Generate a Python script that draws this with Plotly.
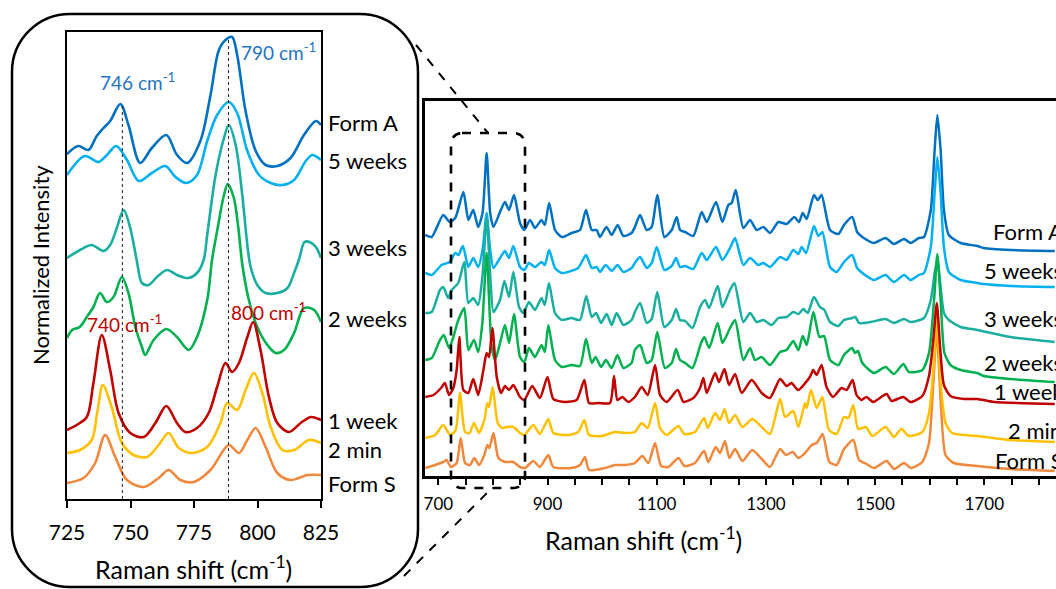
import plotly.graph_objects as go

W, H = 1056, 589

# ---------------- data (Raman shift cm-1, stacked normalized intensity) ----------------
SERIES = ["Form A", "5 weeks", "3 weeks", "2 weeks", "1 week", "2 min", "Form S"]
COLORS = ["#0070C0", "#00B0F0", "#1AAE9F", "#00B050", "#C00000", "#FFC000", "#F0883E"]
MAIN_TICKS = [700, 900, 1100, 1300, 1500, 1700]
INSET_TICKS = [725, 750, 775, 800, 825]
PEAK_LINES = [746.8, 788.6]           # dotted reference lines in the inset
PEAK_LABELS = ["746 cm<sup>-1</sup>", "790 cm<sup>-1</sup>", "740 cm<sup>-1</sup>", "800 cm<sup>-1</sup>"]

MAIN_FORM_A = [(676,240),(688,238),(709,260),(721,253),(731,257),(746,283),(755,255),(764,265),(773,248),(781,262),(788.5,322),(795,262),(801,248),(813,263),(822,273),(829.5,265),(838.6,280),(849.6,252),(857.5,245),(868,255),(877,247),(889,255),(895,250),(903,272),(913.7,245),(926,238),(944,242),(959.5,245),(970.5,265),(981,245),(990,245),(996,238),(1008,248),(1017.5,240),(1028.5,250),(1039,239),(1054,242),(1060,248),(1069.5,260),(1081.7,245),(1090.8,248),(1101,280),(1114,238),(1127.5,245),(1136.6,258),(1142.7,245),(1152,243),(1167,239),(1182.4,263),(1191.6,253),(1208.6,273),(1220.3,253),(1231.2,270),(1237.3,272),(1244.7,285),(1258.7,247),(1271,255),(1283,245),(1295.3,248),(1307.5,242),(1322.8,253),(1338,251),(1352,258),(1360.7,253),(1367.4,262),(1374.7,256),(1388,280),(1394.9,275),(1402,280),(1417.4,245),(1432.7,241),(1443,250),(1458,258),(1467,243),(1476.6,238),(1498,232),(1519,237),(1534.6,231),(1553,236),(1565,232),(1580,237),(1589.5,238),(1602,265),(1609,325),(1614,360),(1620,325),(1626,265),(1635,240),(1656.7,232),(1687,229),(1699,227),(1748,225),(1829,224)]
MAIN_5_WEEKS = [(676,202),(688,200),(706,210),(721,213),(731,222),(737,220),(745,229),(755,208),(764,217),(773,208),(781,225),(788.5,262),(795,225),(801,207),(813,217),(822,224),(829.5,217),(837.4,229),(849.6,208),(857.5,205),(866,212),(877,208),(889,213),(895,210),(903,225),(913.7,207),(926,202),(956,207),(970.5,220),(981,207),(990,208),(996,203),(1006.5,210),(1017.5,204),(1028,210),(1039,203),(1054,207),(1060,212),(1069.5,218),(1081.7,207),(1090.8,212),(1100,228),(1114,205),(1127.5,209),(1135.4,217),(1142.7,208),(1152,209),(1167,206),(1182.4,222),(1191.6,215),(1208.6,228),(1220.3,215),(1234.3,227),(1243.5,237),(1258.7,210),(1271,217),(1286,210),(1295.3,212),(1307.5,208),(1326,218),(1338,215),(1350,225),(1359.5,221),(1365.6,228),(1373.5,222),(1388,249),(1396,239),(1403.4,243),(1417.4,208),(1429.6,203),(1443,213),(1458,220),(1467,207),(1476.6,202),(1498,195),(1519,200),(1534.6,193),(1553,200),(1565,195),(1580,200),(1589.5,202),(1602,228),(1609,282),(1614,318),(1620,282),(1626,228),(1635,203),(1656.7,195),(1687,192),(1699,191),(1748,189),(1829,188)]
MAIN_3_WEEKS = [(676,162),(688,163),(703,185),(709,188),(718,177),(724.5,185),(736.6,192),(747.6,213),(755,172),(764,177),(773,170),(781,200),(788.5,258),(795,200),(801,163),(813,175),(821,194),(829.5,178),(837.4,203),(847.8,168),(855.7,162),(866,173),(877,165),(889,177),(895,170),(902.7,192),(913.7,162),(926,155),(944,157),(959.5,155),(971,179),(981,158),(989,162),(998,152),(1008.3,161),(1017.5,150),(1026.6,162),(1039,150),(1054,155),(1060,163),(1069.5,172),(1081.7,152),(1090.8,156),(1101,183),(1114,148),(1127.5,155),(1135.4,166),(1142.7,155),(1152,154),(1165.3,147),(1179.4,168),(1188.5,175),(1196,167),(1211.7,189),(1220.3,168),(1234.3,185),(1242.2,192),(1258.7,153),(1271,162),(1283,153),(1295.3,155),(1310.6,150),(1322.8,157),(1338,158),(1350,163),(1359.5,161),(1368.6,166),(1376.5,162),(1388,178),(1399,168),(1407,165),(1417.4,153),(1432.7,149),(1443,155),(1458,157),(1464,158),(1470.5,152),(1492,153),(1519,156),(1534.6,152),(1553,156),(1565,153),(1589.5,157),(1602,175),(1609,202),(1614,216),(1620,188),(1626,162),(1635,155),(1656.7,148),(1687,145),(1748,138),(1829,133)]
MAIN_2_WEEKS = [(676,115),(688,117),(703,135),(710,140),(719.6,127),(727.5,138),(736.6,155),(747.6,167),(755,125),(765.3,135),(773,123),(780.6,152),(788.5,222),(797.7,128),(804,115),(813,132),(822,150),(829.5,132),(838.6,161),(849.6,118),(857.5,113),(866,127),(877,118),(889,130),(895,123),(901.5,150),(913.7,115),(926,108),(944,110),(959.5,109),(970.5,136),(981,112),(988,118),(998,108),(1007,115),(1017.5,107),(1028,120),(1039,107),(1054,112),(1060,125),(1069.5,130),(1081.7,112),(1090.8,115),(1101,143),(1115,107),(1127.5,112),(1135.4,126),(1142.7,115),(1152,112),(1165.3,107),(1181.2,132),(1187.3,138),(1196,127),(1211.7,152),(1220.3,132),(1234.3,147),(1243.5,155),(1258.7,115),(1271,127),(1280,115),(1292.3,118),(1307.5,110),(1326,123),(1338,125),(1350,134),(1359.5,125),(1367.4,139),(1374.7,130),(1387,163),(1398,138),(1406.5,139),(1417.4,115),(1432.7,110),(1443,120),(1458,127),(1463,122),(1468.6,124),(1476.6,112),(1498,102),(1519,108),(1534.6,101),(1551.7,111),(1562,103),(1586.5,105),(1598.7,122),(1608,175),(1614,221),(1620,175),(1627,122),(1638,110),(1656.7,105),(1687,102),(1699,99),(1748,96),(1829,93)]
MAIN_1_WEEK = [(676,78),(691,80),(705,87),(712,92),(719.6,80),(727.5,87),(733.6,105),(738.5,138),(745.8,85),(755,82),(764,96),(773,80),(782.5,105),(788.5,122),(793,118),(799,147),(807,98),(815,82),(822,89),(829.5,85),(837.4,90),(849.6,78),(857.5,75),(872,89),(886,77),(900,98),(910.6,76),(932,73),(953.4,75),(967.4,95),(976,72),(993,72),(1014.4,72),(1021.8,99),(1028,75),(1037,78),(1048,73),(1060,78),(1072.5,88),(1083.5,80),(1097,110),(1106,80),(1118,73),(1138.4,85),(1149,73),(1167,77),(1179.4,87),(1185.5,97),(1191.6,82),(1207,102),(1214,93),(1224,106),(1232.5,90),(1243.5,101),(1255.7,82),(1274,95),(1292.3,82),(1307.5,77),(1326,96),(1338,89),(1347,92),(1359,85),(1380.5,98),(1386.6,105),(1392.7,100),(1402,110),(1411,88),(1423,78),(1438.5,87),(1447.7,85),(1458.7,95),(1466,80),(1475,75),(1484,78),(1496.5,73),(1521,81),(1530,74),(1551.5,78),(1565,73),(1586.5,79),(1598.7,99),(1606.6,135),(1613,172),(1619,128),(1626,90),(1638,79),(1663,76),(1687,76),(1718,73),(1829,71)]
MAIN_2_MIN = [(676,37),(694,40),(709,50),(721.4,40),(731.8,45),(739.7,82),(749,43),(757,42),(765.3,52),(774.5,42),(784.3,55),(789.8,72),(793,68),(799.6,88),(808.7,52),(817,47),(825,48),(837.4,48),(849.6,42),(857.5,40),(874,50),(886,41),(901.5,56),(910.6,42),(938,40),(956.4,43),(967.4,55),(976,40),(999,39),(1023.6,43),(1042,42),(1060,43),(1072.5,52),(1083.5,47),(1097,72),(1106,47),(1118,40),(1139.7,49),(1150.7,41),(1170,43),(1186.7,57),(1193.4,47),(1207,62),(1216,55),(1224,66),(1232.5,52),(1243.5,60),(1257,48),(1275,56),(1292.3,48),(1307.5,41),(1326,76),(1335,58),(1350,64),(1359.5,48),(1371.6,72),(1374.7,67),(1382.6,85),(1393,67),(1403.4,78),(1415.6,45),(1429.6,41),(1443,58),(1451,57),(1460,70),(1469,46),(1483,48),(1495,39),(1519,48),(1534.6,38),(1548,46),(1562,39),(1586.5,43),(1598.7,62),(1606.6,105),(1613,158),(1620,92),(1629,52),(1641,42),(1687,39),(1748,35),(1829,33)]
MAIN_FORM_S = [(676,7),(694,10),(709,13),(715,15),(723,8),(733.6,12),(741,37),(749,12),(758,10),(766,17),(774.5,10),(784.3,20),(789.8,30),(793.5,27),(801,42),(810,17),(822,13),(837.4,13),(849.6,8),(858.7,7),(874,14),(886,8),(901.5,20),(910.6,8),(944,7),(959.5,10),(968.6,18),(976,5),(1005,7),(1023.6,10),(1042,10),(1060,12),(1073.7,19),(1084.7,12),(1097,32),(1108,9),(1121.4,8),(1139.7,17),(1150.7,9),(1170,12),(1186.7,24),(1194.6,13),(1208,28),(1216,22),(1225,34),(1233,17),(1243.5,26),(1257,14),(1275,25),(1292.3,16),(1307.5,8),(1326,26),(1336.3,20),(1349,23),(1359.5,17),(1371.6,22),(1384,30),(1393,32),(1404,41),(1416.2,13),(1429.6,10),(1443,26),(1460,35),(1470.5,15),(1484.5,11),(1498,7),(1521,14),(1534.6,6),(1553,12),(1565,7),(1586.5,13),(1598.7,32),(1606.6,92),(1613,145),(1620,75),(1629,20),(1644,12),(1687,9),(1748,6),(1829,4)]

INSET_FORM_A = [(725,345),(729.5,353),(733.4,349),(736.7,363),(739.4,371),(742,378),(746,395),(749.2,374),(753.8,336),(758.4,351),(764.1,364),(768.3,344),(772.3,336),(777.5,358),(781.5,404),(784.8,449),(787.4,459),(790,462),(792,444),(795.3,388),(799.3,348),(803.2,334),(807.8,333),(813,341),(818.3,364),(823,378),(825,374)]
INSET_5_WEEKS = [(725,324),(732,343),(737.4,337),(740.7,344),(744.4,353),(748.6,339),(753.2,318),(758.4,326),(763.7,333),(767.7,322),(772,316),(776.2,324),(780.2,358),(784.1,384),(788.7,397),(792,386),(796,348),(800.6,324),(805.2,316),(809.8,314),(814.4,319),(819,338),(821.6,344),(825,339)]
INSET_3_WEEKS = [(725,241),(730.1,249),(734.7,254),(739.4,248),(742,254),(744.6,271),(747.3,289),(749.9,271),(752.5,238),(754.5,216),(757.1,214),(760.4,222),(764.4,229),(768.3,224),(772.9,221),(776.2,226),(778.8,239),(780.2,264),(783.5,324),(786.8,361),(788.7,374),(791.4,354),(794,304),(796,254),(797.3,232),(799.9,214),(803.2,206),(807.8,206),(811.8,211),(814.4,226),(816.4,240),(818.5,257),(820.5,257),(823,252),(825,241)]
INSET_2_WEEKS = [(725,161),(727,169),(730,172),(732.8,182),(735.4,192),(738,206),(740.7,197),(743.3,202),(746.6,222),(749.2,206),(751.9,172),(754.5,152),(755.8,144),(759.1,159),(764.1,170),(768.3,162),(772.9,149),(776.2,162),(780.2,199),(782.1,239),(784.1,268),(786.8,304),(788.3,315),(790.7,301),(792.5,270),(794,235),(796.6,199),(799.9,172),(803.9,154),(807.2,146),(810.5,149),(814.4,166),(818.3,191),(822.3,189),(825,177)]
INSET_1_WEEK = [(725,69),(728.8,74),(732.8,82),(735.4,116),(738.7,164),(742,129),(745.3,86),(749.9,66),(755.2,62),(759.8,76),(764.1,93),(768.3,76),(771.6,67),(776.2,71),(780.8,86),(784.1,112),(787.4,136),(790,127),(792.7,136),(796,162),(798.3,177),(801.2,149),(804.5,102),(807.8,76),(812.4,67),(817,76),(821,82),(825,79)]
INSET_2_MIN = [(725,46),(730.1,49),(734.7,59),(737,88),(739.1,114),(742.6,92),(746.6,56),(751.2,44),(756.5,42),(761.1,54),(765,66),(769,51),(774.2,46),(780.2,52),(785.4,76),(788.1,96),(792,89),(795.3,109),(798.6,126),(801.9,106),(805.2,72),(809.8,49),(814.4,49),(820.3,59),(825,56)]
INSET_FORM_S = [(725,16),(731.5,21),(736.1,36),(740,64),(744,42),(748.6,19),(755.2,12),(761.1,21),(765,29),(769.6,19),(774.9,17),(781.5,29),(788.7,54),(792.7,46),(796,59),(799.3,71),(803.2,52),(807.8,26),(813,19),(819.7,24),(825,24)]

MAIN_DATA = [MAIN_FORM_A, MAIN_5_WEEKS, MAIN_3_WEEKS, MAIN_2_WEEKS, MAIN_1_WEEK, MAIN_2_MIN, MAIN_FORM_S]
INSET_DATA = [INSET_FORM_A, INSET_5_WEEKS, INSET_3_WEEKS, INSET_2_WEEKS, INSET_1_WEEK, INSET_2_MIN, INSET_FORM_S]

# ---------------- layout helpers (pixel -> paper) ----------------
def fx(x):
    return x / W


def fy(y):
    return 1 - y / H


FONT = "Lato, 'Open Sans', Arial, sans-serif"

fig = go.Figure()

DRAW_ORDER = [0, 1, 2, 3, 6, 5, 4]
for i in DRAW_ORDER:
    xs, ys = zip(*INSET_DATA[i])
    fig.add_trace(go.Scatter(x=xs, y=ys, mode="lines", name=SERIES[i],
                             line=dict(color=COLORS[i], width=2.6, shape="spline", smoothing=0.9),
                             xaxis="x", yaxis="y", showlegend=False, hoverinfo="skip"))
for i in DRAW_ORDER:
    xs, ys = zip(*MAIN_DATA[i])
    fig.add_trace(go.Scatter(x=xs, y=ys, mode="lines", name=SERIES[i],
                             line=dict(color=COLORS[i], width=2.5, shape="spline", smoothing=0.6),
                             xaxis="x2", yaxis="y2", showlegend=False, hoverinfo="skip"))


def rounded_path(x0, y0, x1, y1, r):
    k = 0.5523 * r

    def P(x, y):
        return f"{fx(x):.5f},{fy(y):.5f}"
    pts = [f"M {P(x0 + r, y0)}",
           f"L {P(x1 - r, y0)}",
           f"C {P(x1 - r + k, y0)} {P(x1, y0 + r - k)} {P(x1, y0 + r)}",
           f"L {P(x1, y1 - r)}",
           f"C {P(x1, y1 - r + k)} {P(x1 - r + k, y1)} {P(x1 - r, y1)}",
           f"L {P(x0 + r, y1)}",
           f"C {P(x0 + r - k, y1)} {P(x0, y1 - r + k)} {P(x0, y1 - r)}",
           f"L {P(x0, y0 + r)}",
           f"C {P(x0, y0 + r - k)} {P(x0 + r - k, y0)} {P(x0 + r, y0)} Z"]
    return " ".join(pts)


shapes = [
    dict(type="path", xref="paper", yref="paper", path=rounded_path(12, 14, 418, 587, 58),
         line=dict(color="black", width=2.5), layer="above"),
    dict(type="path", xref="paper", yref="paper", path=rounded_path(451, 133, 525, 488, 11),
         line=dict(color="black", width=2.6, dash="dash"), layer="above"),
    dict(type="line", xref="paper", yref="paper", x0=fx(416), y0=fy(45), x1=fx(488), y1=fy(133),
         line=dict(color="black", width=2, dash="dash")),
    dict(type="line", xref="paper", yref="paper", x0=fx(404), y0=fy(576), x1=fx(492), y1=fy(488),
         line=dict(color="black", width=2, dash="dash")),
]
for xv, ytop in zip(PEAK_LINES, [395, 462]):
    shapes.append(dict(type="line", xref="x", yref="y", x0=xv, x1=xv, y0=0, y1=ytop,
                       line=dict(color="#222222", width=1, dash="dot"), layer="above"))

annotations = []
main_label_pos = [(991, 232), (982, 270), (982, 318), (982, 362), (992, 391), (1006, 430), (993, 460)]
inset_label_pos = [(326, 123), (326, 160), (326, 247), (326, 318), (326, 420), (326, 449), (326, 483)]
for i, name in enumerate(SERIES):
    x, y = main_label_pos[i]
    annotations.append(dict(text=name, x=fx(x), y=fy(y), xref="paper", yref="paper",
                            xanchor="left", yanchor="middle", showarrow=False,
                            font=dict(family=FONT, size=22, color="black")))
    x, y = inset_label_pos[i]
    annotations.append(dict(text=name, x=fx(x), y=fy(y), xref="paper", yref="paper",
                            xanchor="left", yanchor="middle", showarrow=False,
                            font=dict(family=FONT, size=22, color="black")))

peak_pos = [(137, 82, "#1F74C4"), (278, 52, "#1F74C4"), (124, 323, "#C00000"), (268, 311, "#C00000")]
for txt, (x, y, c) in zip(PEAK_LABELS, peak_pos):
    annotations.append(dict(text=txt, x=fx(x), y=fy(y), xref="paper", yref="paper",
                            xanchor="center", yanchor="middle", showarrow=False,
                            font=dict(family=FONT, size=19, color=c)))

annotations.append(dict(text="Raman shift (cm<sup>-1</sup>)", x=fx(643), y=fy(538), xref="paper", yref="paper",
                        xanchor="center", yanchor="middle", showarrow=False,
                        font=dict(family=FONT, size=25, color="black")))
annotations.append(dict(text="Raman shift (cm<sup>-1</sup>)", x=fx(193), y=fy(567), xref="paper", yref="paper",
                        xanchor="center", yanchor="middle", showarrow=False,
                        font=dict(family=FONT, size=25, color="black")))
annotations.append(dict(text="Normalized Intensity", x=fx(40), y=fy(265), xref="paper", yref="paper",
                        xanchor="center", yanchor="middle", showarrow=False, textangle=-90,
                        font=dict(family=FONT, size=22, color="black")))

fig.update_layout(
    template="none",
    width=W, height=H, autosize=False,
    margin=dict(l=0, r=0, t=0, b=0, pad=0, autoexpand=False),
    paper_bgcolor="white", plot_bgcolor="white",
    font=dict(family=FONT, color="black"),
    showlegend=False,
    xaxis=dict(domain=[fx(67), fx(321)], anchor="y", range=[725, 825], automargin=False,
               showline=True, linecolor="black", linewidth=2, mirror=True,
               ticks="outside", ticklen=7, tickwidth=2, tickcolor="black",
               tickvals=INSET_TICKS, ticktext=[str(t) for t in INSET_TICKS],
               tickfont=dict(family=FONT, size=21, color="black"), ticklabelstandoff=7,
               showgrid=False, zeroline=False, fixedrange=True),
    yaxis=dict(domain=[fy(499), fy(32)], anchor="x", range=[0, 467], automargin=False,
               showline=True, linecolor="black", linewidth=2, mirror=True,
               ticks="", showticklabels=False, showgrid=False, zeroline=False, fixedrange=True),
    xaxis2=dict(domain=[fx(425), 1.0], anchor="y2", range=[675.6, 1831.3], automargin=False,
                showline=True, linecolor="black", linewidth=2.5, mirror=True,
                ticks="outside", ticklen=6, tickwidth=2, tickcolor="black",
                tickvals=MAIN_TICKS, ticktext=[str(t) for t in MAIN_TICKS],
                minor=dict(dtick=50, tick0=700, ticks="outside", ticklen=6, tickwidth=2, tickcolor="black"),
                tickfont=dict(family=FONT, size=17, color="black"), ticklabelstandoff=5,
                showgrid=False, zeroline=False, fixedrange=True),
    yaxis2=dict(domain=[fy(476), fy(101)], anchor="x2", range=[-1, 374], automargin=False,
                showline=True, linecolor="black", linewidth=2.5, mirror=False,
                ticks="", showticklabels=False, showgrid=False, zeroline=False, fixedrange=True),
    shapes=shapes,
    annotations=annotations,
)

fig.write_html("out.html", config={"displayModeBar": False},
               post_script="document.body.style.margin='0';document.body.style.padding='0';document.body.style.overflow='hidden';")
